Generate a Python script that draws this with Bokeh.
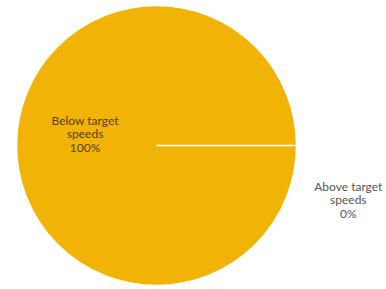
import math
from bokeh.plotting import figure
from bokeh.models import Range1d, ColumnDataSource
from bokeh.core.properties import value
from bokeh.embed import file_html
from bokeh.resources import INLINE

categories = ["Below target\nspeeds", "Above target\nspeeds"]
shares = [100, 0]
colors = ["#F1B406", "#F1B406"]
label_colors = ["#5A3C05", "#555555"]

W, H = 386, 289
cx, cy, R = 156, 144, 140

total = sum(shares)
starts, ends = [], []
acc = 0.0
for s in shares:
    starts.append(2 * math.pi * acc / total)
    acc += s
    ends.append(2 * math.pi * acc / total)

p = figure(width=W, height=H, output_backend="svg", toolbar_location=None,
           x_range=Range1d(0, W), y_range=Range1d(0, H),
           min_border=0, outline_line_color=None)
p.axis.visible = False
p.grid.visible = False
p.background_fill_color = "white"
p.border_fill_color = "white"

src = ColumnDataSource(dict(x=[cx] * len(shares), y=[cy] * len(shares),
                            start=starts, end=ends, color=colors))
p.wedge(x="x", y="y", radius=R, radius_units="screen",
        start_angle="start", end_angle="end",
        fill_color="color", line_color="white", line_width=1.5, source=src)

# label positions (layout)
lx = [cx - 0.51 * R, cx + 1.37 * R]
ly = [cy + 12, cy - 54]
texts = [f"{c}\n{v}%" for c, v in zip(categories, shares)]
p.text(x=lx, y=ly, text=texts, text_align="center", text_baseline="middle",
       text_font=value("Lato"), text_font_size="9pt", text_line_height=0.9,
       text_color=label_colors)

open("out.html", "w").write(file_html(p, INLINE))
